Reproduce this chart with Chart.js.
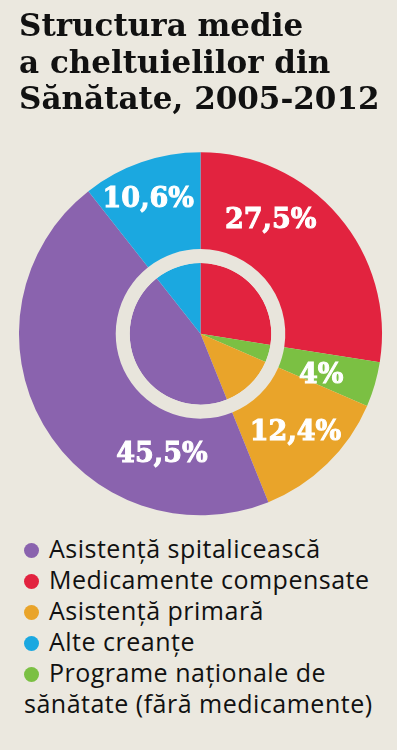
<!DOCTYPE html>
<html>
<head>
<meta charset="utf-8">
<script src="https://cdn.jsdelivr.net/npm/chart.js@4.4.1/dist/chart.umd.min.js"></script>
<style>
  body { margin: 0; background: #ebe8df; width: 397px; height: 750px; overflow: hidden; }
  #wrap { position: relative; width: 397px; height: 528px; }
  #legend { margin: 5px 0 0 24px; width: 368px; font-family: "Open Sans", sans-serif; font-size: 25px; letter-spacing: 0.5px; line-height: 31px; color: #111111; }
  #legend span.dot { display: inline-block; width: 15px; height: 15px; border-radius: 50%; margin-right: 10px; vertical-align: 0px; }
</style>
</head>
<body>
<div id="wrap"><canvas id="pieChart"></canvas></div>
<div id="legend"></div>
<script>
// slices in clockwise order from 12 o'clock
const categories = ['Medicamente compensate', 'Programe naționale de sănătate (fără medicamente)', 'Asistență primară', 'Asistență spitalicească', 'Alte creanțe'];
const shares = [27.5, 4, 12.4, 45.5, 10.6];
const shareLabels = ['27,5%', '4%', '12,4%', '45,5%', '10,6%'];
const legendOrder = [3, 0, 2, 4, 1];

const colors = ['#e2233f', '#7bc043', '#e9a42a', '#8a63ae', '#1ba8e0'];
const ringColor = '#e8e5dc';
// label placement: angle shift (deg) from slice middle, radius as share of outer radius
const labelShift = [-18, 2, 0, -42, -2];
const labelRadius = [0.74, 0.70, 0.75, 0.69, 0.80];

const labelPlugin = {
    id: 'sliceLabels',
    afterDatasetsDraw(chart) {
        const ctx = chart.ctx;
        const arcs = chart.getDatasetMeta(0).data;
        ctx.save();
        ctx.fillStyle = '#ffffff';
        ctx.strokeStyle = '#ffffff';
        ctx.lineWidth = 1;
        ctx.font = 'bold 27px "DejaVu Serif", serif';
        ctx.textAlign = 'center';
        ctx.textBaseline = 'middle';
        arcs.forEach(function(arc, i) {
            const a = (arc.startAngle + arc.endAngle) / 2 + labelShift[i] * Math.PI / 180;
            const r = arc.outerRadius * labelRadius[i];
            const x = arc.x + r * Math.cos(a), y = arc.y + r * Math.sin(a) + 2;
            ctx.fillText(shareLabels[i], x, y);
            ctx.strokeText(shareLabels[i], x, y);
        });
        ctx.restore();
    }
};

const ctx = document.getElementById('pieChart').getContext('2d');
const chart = new Chart(ctx, {
    type: 'doughnut',
    data: {
        labels: categories,
        datasets: [
            { data: shares, backgroundColor: colors, borderWidth: 0, weight: 97 },
            { data: [100], backgroundColor: [ringColor], borderWidth: 0, weight: 14 },
            { data: shares, backgroundColor: colors, borderWidth: 0, weight: 71 }
        ]
    },
    options: {
        responsive: true,
        maintainAspectRatio: false,
        animation: false,
        cutout: 0,
        events: [],
        layout: { padding: { left: 19, right: 15, top: 0, bottom: 12 } },
        plugins: {
            legend: { display: false },
            tooltip: { enabled: false },
            title: {
                display: true,
                align: 'start',
                text: ['Structura medie', 'a cheltuielilor din', 'Sănătate, 2005-2012'],
                color: '#111111',
                font: { family: '"DejaVu Serif", serif', size: 31, weight: 'bold', lineHeight: 1.18 },
                padding: { top: 10, bottom: 32 }
            }
        }
    },
    plugins: [labelPlugin]
});

// html legend built from the chart's own data
const legendEl = document.getElementById('legend');
legendOrder.forEach(function(i) {
    const row = document.createElement('div');
    const dot = document.createElement('span');
    dot.className = 'dot';
    dot.style.background = chart.data.datasets[0].backgroundColor[i];
    row.appendChild(dot);
    row.appendChild(document.createTextNode(chart.data.labels[i]));
    legendEl.appendChild(row);
});
</script>
</body>
</html>
